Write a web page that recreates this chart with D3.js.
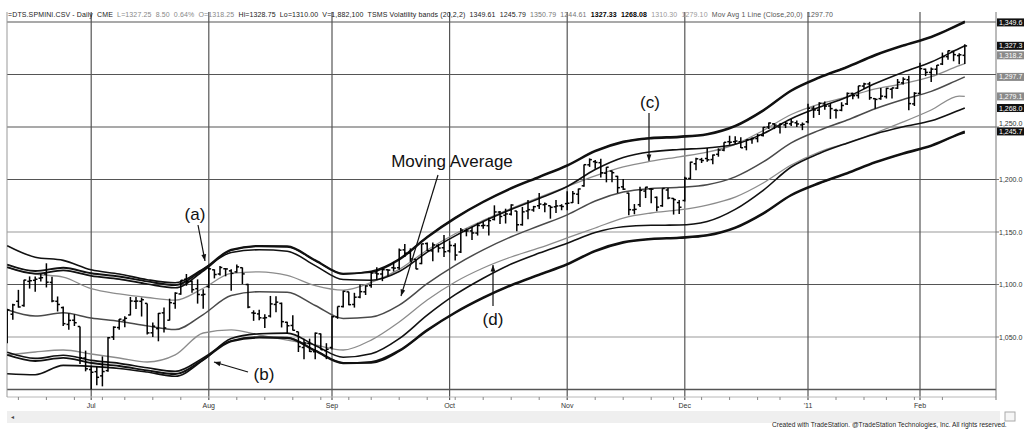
<!DOCTYPE html>
<html>
<head>
<meta charset="utf-8">
<script src="https://cdn.jsdelivr.net/npm/d3@7"></script>
<style>
  body { margin: 0; background: #fff; }
  svg { display: block; font-family: 'Liberation Sans', Arial, sans-serif; }
</style>
</head>
<body>
<script>
// trading calendar (exchange holidays removed)
const firstDay = '2010-06-10'
const lastDay = '2011-02-11'
const holidays = ['2010-07-05', '2010-09-06', '2010-11-25', '2010-12-24', '2011-01-17']

// daily OHLC, SPMINI
const opens = [1047.8,1071.7,1084,1080,1103,1104,1106,1110,1102,1084,
  1078,1062,1066,1060,1030,1019,1017,1013,1018,1050,
  1059,1066,1071,1084,1084,1082,1054,1058,1073,1066,
  1082,1091,1105,1103,1096,1090,1098,1114,1110,1115,
  1113,1112,1116,1100,1073,1072,1068,1070,1081,1082,
  1064,1061,1055,1040,1044,1036,1053,1037,1040,1069,
  1079,1093,1081,1088,1093,1099,1111,1110,1114,1116,
  1116,1133,1130,1124,1120,1139,1132,1137,1135,1132,
  1137,1131,1151,1151,1149,1156,1156,1162,1169,1166,
  1167,1170,1157,1170,1171,1175,1176,1175,1174,1175,
  1177,1178,1186,1194,1214,1217,1216,1206,1208,1203,
  1193,1187,1171,1176,1189,1191,1183,1175,1190,1182,
  1178,1180,1201,1215,1219,1220,1219,1224,1228,1236,
  1236,1236,1231,1238,1239,1242,1250,1253,1250,1252,
  1253,1254,1252,1255,1268,1266,1272,1270,1266,1266,
  1272,1282,1280,1289,1291,1277,1277,1279,1286,1287,
  1292,1295,1272,1282,1305,1302,1305,1310,1317,1322,
  1318,1318.25]
const highs = [1076.9,1081.6,1094.9,1104.6,1107.7,1107.7,1110,1120.2,1107.5,1088.6,
  1079,1072.6,1071.6,1060,1037,1022.6,1021.9,1031.5,1049.9,1060.2,
  1067.2,1069.8,1088.1,1088.2,1087.5,1082,1063.7,1072.9,1078.2,1086.5,
  1092.7,1104,1110,1103.7,1104.9,1095.4,1116.3,1114.4,1117.7,1115.6,
  1114.5,1118.95,1116.2,1100.6,1075.4,1075.9,1071.6,1089.1,1088.8,1082.8,
  1064.6,1070.6,1055,1048.4,1048.4,1054.4,1053.4,1044.1,1070.3,1079.1,
  1094.1,1093,1092.1,1099.9,1099.3,1112.5,1116.4,1115.3,1114.4,1121.5,
  1134.2,1138.6,1134.4,1124,1138.9,1139.9,1140,1138.6,1147.2,1141.3,
  1139.2,1153.8,1153.3,1154.9,1158.7,1159.7,1163.6,1175.4,1169.9,1172.2,
  1176.5,1170,1173.9,1180.4,1174.9,1187.1,1178.1,1175,1180.5,1176.5,
  1188.8,1189.1,1191.3,1214.3,1220.1,1218.6,1219.8,1211.8,1208.5,1203.5,
  1200.4,1187.5,1176.6,1193.1,1193,1191.9,1183.7,1191.7,1191.9,1182.4,
  1180.4,1202.6,1216.9,1220.6,1220.6,1230.1,1223.9,1229.7,1235.4,1241.7,
  1241.1,1240.3,1238.2,1240,1243.3,1250,1254.4,1253.6,1253.6,1254.9,
  1257.6,1256.1,1254.3,1272.2,1270.1,1273.6,1274.2,1272.8,1267.5,1273.6,
  1282.9,1282.6,1289.2,1292.1,1293,1277.5,1287.2,1287.3,1287.3,1295.7,
  1297.3,1298.7,1283.2,1311.2,1305.6,1306.6,1309,1320.9,1322.9,1322.6,
  1320.3,1328.75]
const lows = [1044,1066.4,1078,1078.9,1096.1,1093,1102.9,1097.2,1083.2,1074.3,
  1060.5,1056.9,1060.5,1024.2,1017.3,999.9,1004,1003,1017,1047.2,
  1057,1059.4,1070.6,1076.7,1069.5,1052.3,1050.1,1045.9,1054.3,1065.7,
  1076.9,1090.3,1098.8,1092.1,1081.8,1077,1096.7,1105.8,1108.5,1107.8,
  1094.1,1111.3,1100.5,1077.3,1065.4,1066,1058.5,1068.6,1073.6,1059.1,
  1052.9,1056.1,1035.7,1028.8,1035.7,1028.7,1037.8,1028.9,1038,1067.3,
  1078,1080.2,1078,1087,1090,1097,1104.6,1103.2,1107.9,1112.4,
  1114.1,1126.2,1121.6,1114.5,1119.3,1132,1122.1,1130.5,1126.1,1130.4,
  1122.9,1130,1145.9,1142.4,1146.6,1153,1146.7,1161,1157.7,1158.1,
  1165.6,1150.7,1156,1162.2,1169.3,1172,1168.7,1162.7,1168.1,1170.7,
  1170.7,1177.7,1176.6,1193,1212,1210.2,1201.9,1197.3,1197.5,1187.1,
  1190.1,1166,1166.9,1173.9,1182.3,1177.3,1169.7,1174,1181.3,1166.6,
  1167.1,1179,1200.1,1208.7,1215.7,1217,1214.5,1221.7,1227,1233,
  1233.8,1230,1227.8,1234,1235.4,1241,1248,1248,1243.7,1249,
  1251,1250,1247,1253.6,1258.7,1261.4,1266.4,1257.7,1258.2,1265,
  1271,1276.5,1277.1,1286.3,1275.9,1267.3,1276,1277.1,1277.1,1286.2,
  1290.4,1266,1270,1281,1298.5,1292.8,1299.7,1309,1314,1312.6,
  1309.7,1310]
const closes = [1075.8,1080.6,1078.6,1104.2,1103.6,1105,1106.5,1102.2,1084.3,1081,
  1062.7,1065.8,1063.6,1030.2,1019.7,1016.4,1011.6,1017.1,1049.3,1059.3,
  1067,1067.8,1084.3,1084.2,1085.5,1053.9,1060.3,1072.5,1058.6,1082.7,
  1091.7,1104,1102.8,1095.1,1090.5,1090.6,1114.9,1109.5,1116.2,1114.8,
  1110.6,1116.8,1110.1,1078.5,1072.6,1068.3,1068.4,1081.5,1083.2,1064.6,
  1060.7,1056.4,1040.9,1044.3,1036.2,1053.6,1037.9,1038.3,1069.3,1079.1,
  1093.5,1080.8,1087.9,1093.2,1098.6,1110.9,1110.1,1114.1,1113.7,1115.6,
  1132.7,1129.8,1124.3,1114.8,1138.7,1132.2,1137.7,1134.7,1131.2,1137.2,
  1128,1151.8,1151,1149.1,1156.2,1156.3,1160.8,1169.1,1164.8,1167.2,
  1175.7,1156.9,1169.2,1171.3,1174.1,1176.6,1176.6,1173.5,1174.8,1174.3,
  1177.4,1186.6,1191,1214.1,1218.9,1216.3,1206.4,1211.7,1206.5,1192.2,
  1190.8,1171.3,1171.6,1189.7,1192.7,1190.8,1173.7,1191.4,1182.4,1180.8,
  1173.6,1201.1,1216.5,1219.7,1218.1,1218.75,1223.3,1228,1235.4,1235.5,
  1236.6,1230.2,1237.9,1238.9,1242.1,1249.6,1253.8,1251.8,1252.5,1253.5,
  1254.8,1252.9,1252.6,1267.9,1266.2,1272.6,1269.9,1267.5,1265.75,1270.5,
  1281.96,1279.8,1289.2,1291,1277.9,1276.3,1279.4,1286.8,1287.2,1292.6,
  1295.5,1272.3,1282.1,1305.6,1302,1305.1,1308.9,1317,1322.6,1318.9,
  1318.75,1327.25]

// indicator lines, read every 5th bar
const bandIdx = [0,5,10,15,20,25,30,35,40,45,50,55,60,65,70,75,80,85,90,95,
  100,105,110,115,120,125,130,135,140,145,150,155,160,165,170,171]
const movAvg = [1076,1070,1073,1068,1065,1060.6,1057.1,1071.4,1089.5,1093.1,
  1092.7,1080,1067.7,1069,1080.4,1100.8,1118.3,1133,1145.5,1155.9,
  1166.3,1179.5,1188,1191.4,1192.6,1195,1202.5,1216.7,1234.9,1246.8,
  1256.6,1267.4,1276.2,1283.9,1295.4,1297.7]
const pctUp = [1119.0,1112.8,1115.9,1110.7,1107.6,1103.0,1099.4,1114.3,1133.1,1136.8,
  1136.4,1123.2,1110.4,1111.8,1123.6,1144.8,1163.0,1178.3,1191.3,1202.1,
  1213.0,1226.7,1235.5,1239.1,1240.3,1242.8,1250.6,1265.4,1284.3,1296.7,
  1306.9,1318.1,1327.2,1335.3,1347.2,1349.61]
const pctDn = [1033.0,1027.2,1030.1,1025.3,1022.4,1018.2,1014.8,1028.5,1045.9,1049.4,
  1049.0,1036.8,1025.0,1026.2,1037.2,1056.8,1073.6,1087.7,1099.7,1109.7,
  1119.6,1132.3,1140.5,1143.7,1144.9,1147.2,1154.4,1168.0,1185.5,1196.9,
  1206.3,1216.7,1225.2,1232.5,1243.6,1245.79]
const volUp = [1116.5,1110.3,1113.4,1108.2,1105.1,1100.5,1096.9,1112.8,1132.6,1136.3,
  1135.9,1122.7,1109.9,1112.6,1124.4,1145.6,1163.8,1179.1,1192.1,1202.9,
  1213.8,1227.5,1236.3,1239.9,1241.1,1243.6,1251.4,1266.2,1285.1,1297.5,
  1307.7,1318.9,1328.0,1336.1,1348.0,1350.79]
const volDn = [1035.5,1029.7,1032.6,1027.8,1024.9,1020.7,1017.3,1030.0,1046.4,1049.9,
  1049.5,1037.3,1025.5,1025.4,1036.4,1056.0,1072.8,1086.9,1098.9,1108.9,
  1118.8,1131.5,1139.7,1142.9,1144.1,1146.4,1153.6,1167.2,1184.7,1196.1,
  1205.5,1215.9,1224.4,1231.7,1242.8,1244.61]
const rngUp = [1137,1126,1123,1114,1110,1104.6,1101.6,1114.9,1130.5,1133.1,
  1131.7,1118,1104.7,1104,1112.4,1130.8,1146.3,1160,1171.5,1181.9,
  1193.3,1209.5,1221,1226.4,1228.6,1230,1233.5,1243.7,1257.9,1268.8,
  1278.6,1291.4,1302.2,1311.9,1324.8,1327.33]
const rngDn = [1015,1014,1023,1022,1020,1016.6,1012.6,1027.9,1048.5,1053.1,
  1053.7,1042,1030.7,1034,1048.4,1070.8,1090.3,1106,1119.5,1129.9,
  1139.3,1149.5,1155,1156.4,1156.6,1160,1171.5,1189.7,1211.9,1224.8,
  1234.6,1243.4,1250.2,1255.9,1266.0,1268.08]
const hiAvg = [1116,1110,1107,1096,1091,1087.6,1085.1,1096.4,1110.5,1112.1,
  1108.7,1099,1094.7,1102,1114.4,1132.8,1148.3,1161,1172.5,1182.9,
  1193.3,1203.5,1212,1217.4,1221.6,1226,1233.5,1246.7,1261.9,1271.8,
  1278.6,1286.4,1291.2,1297.9,1308.4,1310.3]
const loAvg = [1032.9,1035.7,1037.6,1033.8,1030,1026.2,1032.9,1053.8,1056.7,1051.9,
  1047.1,1042.4,1037.6,1047.1,1064.3,1085.2,1102.4,1115.7,1126.2,1134.8,
  1144.3,1153.8,1163.3,1168.1,1171,1175.7,1183.3,1196.7,1213.8,1226.2,
  1234.8,1244.3,1254.8,1266.2,1279.5,1279.1]

const priceTicks = [1050, 1100, 1150, 1200, 1250]
const gridValues = [1000, 1050, 1100, 1150, 1200, 1250, 1300, 1350]
const tagValues = [1349.61, 1327.33, 1318.25, 1297.70, 1279.10, 1268.08, 1245.79]
const tagDark = [true, true, false, false, false, true, true]

const width = 1024
const height = 429
const plot = { left: 7, right: 996, top: 12, bottom: 397 }

const parse = d3.utcParse('%Y-%m-%d')
const fmtDay = d3.utcFormat('%Y-%m-%d')
const dates = d3.utcDay.range(parse(firstDay), d3.utcDay.offset(parse(lastDay), 1))
  .filter((d) => d.getUTCDay() % 6 !== 0 && !holidays.includes(fmtDay(d)))
const n = Math.min(dates.length, closes.length)

const x = d3.scaleLinear().domain([0, 171]).range([7.2, 964.8])
const y = d3.scaleLinear().domain([1000, 1350]).range([389.5, 22])

const svg = d3.select('body').append('svg')
  .attr('width', width)
  .attr('height', height)

svg.append('defs').append('clipPath').attr('id', 'plot-clip')
  .append('rect')
  .attr('x', plot.left).attr('y', plot.top)
  .attr('width', plot.right - plot.left).attr('height', plot.bottom - plot.top)

// month and week positions
const monthIdx = []
const weekIdx = []
for (let i = 1; i < n; i++) {
  if (dates[i].getUTCMonth() !== dates[i - 1].getUTCMonth()) monthIdx.push(i)
  else if (dates[i].getUTCDay() < dates[i - 1].getUTCDay()) weekIdx.push(i)
}
const monthName = (i) => {
  const d = dates[i]
  return d.getUTCMonth() === 0 ? "'" + d3.utcFormat('%y')(d) : d3.utcFormat('%b')(d)
}

const grid = svg.append('g')
grid.selectAll('line.h')
  .data(gridValues)
  .enter()
  .append('line')
  .attr('x1', plot.left).attr('x2', plot.right)
  .attr('y1', (d) => y(d)).attr('y2', (d) => y(d))
  .attr('stroke', (d) => (d === 1050 || d === 1150 ? '#9a9a9a' : '#555'))
  .attr('stroke-width', (d) => (d === 1000 ? 1.6 : 1.2))

grid.selectAll('line.v')
  .data(monthIdx)
  .enter()
  .append('line')
  .attr('x1', (d) => x(d)).attr('x2', (d) => x(d))
  .attr('y1', plot.top).attr('y2', plot.bottom + 3)
  .attr('stroke', '#555')
  .attr('stroke-width', 1.2)

// frame
svg.append('line')
  .attr('x1', plot.left).attr('x2', plot.right)
  .attr('y1', plot.bottom).attr('y2', plot.bottom)
  .attr('stroke', '#b8b8b8')
svg.append('line')
  .attr('x1', plot.left).attr('x2', plot.left)
  .attr('y1', plot.top).attr('y2', plot.bottom)
  .attr('stroke', '#999')
svg.append('line')
  .attr('x1', plot.right).attr('x2', plot.right)
  .attr('y1', plot.top).attr('y2', plot.bottom + 3)
  .attr('stroke', '#777')

// time axis
const xAxis = svg.append('g').attr('font-size', 7).attr('fill', '#333')
xAxis.selectAll('line.w')
  .data(weekIdx)
  .enter()
  .append('line')
  .attr('x1', (d) => x(d)).attr('x2', (d) => x(d))
  .attr('y1', plot.bottom).attr('y2', plot.bottom + 3)
  .attr('stroke', '#888')
xAxis.selectAll('text')
  .data(monthIdx)
  .enter()
  .append('text')
  .attr('x', (d) => x(d))
  .attr('y', 408)
  .attr('text-anchor', 'middle')
  .text(monthName)

// price axis, TradeStation truncates to one decimal
const fmtPrice = (v) => d3.format(',.1f')(Math.floor(v * 10 + 1e-6) / 10)
const yAxis = svg.append('g').attr('font-size', 7).attr('fill', '#333')
yAxis.selectAll('line')
  .data(priceTicks)
  .enter()
  .append('line')
  .attr('x1', plot.right).attr('x2', plot.right + 3)
  .attr('y1', (d) => y(d)).attr('y2', (d) => y(d))
  .attr('stroke', '#777')
yAxis.selectAll('text')
  .data(priceTicks)
  .enter()
  .append('text')
  .attr('x', plot.right + 3)
  .attr('y', (d) => y(d) + (d === 1250 ? -1.5 : 2.5))
  .text((d) => fmtPrice(d))

const chart = svg.append('g').attr('clip-path', 'url(#plot-clip)')

// bands
const bandLine = (vals) => d3.line()
  .x((d, k) => x(bandIdx[k]))
  .y((d) => y(d))
  .curve(d3.curveMonotoneX)(vals)

const bands = [
  { vals: loAvg, color: '#8c8c8c', w: 1.3 },
  { vals: hiAvg, color: '#8c8c8c', w: 1.3 },
  { vals: movAvg, color: '#4a4a4a', w: 1.5 },
  { vals: rngUp, color: '#111', w: 1.6 },
  { vals: rngDn, color: '#111', w: 1.6 },
  { vals: volUp, color: '#111', w: 1.7 },
  { vals: volDn, color: '#111', w: 1.7 },
  { vals: pctUp, color: '#111', w: 1.9 },
  { vals: pctDn, color: '#111', w: 1.9 },
]
chart.selectAll('path.band')
  .data(bands)
  .enter()
  .append('path')
  .attr('class', 'band')
  .attr('d', (d) => bandLine(d.vals))
  .attr('fill', 'none')
  .attr('stroke', (d) => d.color)
  .attr('stroke-width', (d) => d.w)

// price bars
const idx = d3.range(n)
const bars = chart.append('g').attr('stroke', '#000').attr('stroke-width', 1.5)
bars.selectAll('line.hl')
  .data(idx)
  .enter()
  .append('line')
  .attr('x1', (i) => x(i)).attr('x2', (i) => x(i))
  .attr('y1', (i) => y(highs[i])).attr('y2', (i) => y(lows[i]))
bars.selectAll('line.o')
  .data(idx)
  .enter()
  .append('line')
  .attr('x1', (i) => x(i) - 2.3).attr('x2', (i) => x(i))
  .attr('y1', (i) => y(opens[i])).attr('y2', (i) => y(opens[i]))
bars.selectAll('line.c')
  .data(idx)
  .enter()
  .append('line')
  .attr('x1', (i) => x(i)).attr('x2', (i) => x(i) + 2.3)
  .attr('y1', (i) => y(closes[i])).attr('y2', (i) => y(closes[i]))

// annotations
const notes = svg.append('g').attr('font-size', 17).attr('fill', '#111')
const arrow = (x1, y1, x2, y2) => {
  const a = Math.atan2(y2 - y1, x2 - x1)
  const s = 7
  notes.append('line')
    .attr('x1', x1).attr('y1', y1).attr('x2', x2).attr('y2', y2)
    .attr('stroke', '#111').attr('stroke-width', 1.2)
  notes.append('path')
    .attr('d', `M${x2},${y2} L${x2 - s * Math.cos(a - 0.35)},${y2 - s * Math.sin(a - 0.35)} L${x2 - s * Math.cos(a + 0.35)},${y2 - s * Math.sin(a + 0.35)} Z`)
    .attr('fill', '#111')
}
notes.append('text').attr('x', 195).attr('y', 220).attr('text-anchor', 'middle').text('(a)')
arrow(198, 225, 205, 261)
notes.append('text').attr('x', 264).attr('y', 380).attr('text-anchor', 'middle').text('(b)')
arrow(248, 372, 214, 362)
notes.append('text').attr('x', 650).attr('y', 108).attr('text-anchor', 'middle').text('(c)')
arrow(649, 113, 649, 161)
notes.append('text').attr('x', 493).attr('y', 325).attr('text-anchor', 'middle').text('(d)')
arrow(493, 306, 493, 265)
notes.append('text').attr('x', 452).attr('y', 167).attr('text-anchor', 'middle').text('Moving Average')
arrow(438, 175, 401, 296)

// value tags on the price axis
const tags = svg.append('g').attr('font-size', 7)
tagValues.forEach((v, k) => {
  const ty = y(v)
  tags.append('rect')
    .attr('x', plot.right + 1).attr('y', ty - 4)
    .attr('width', 32).attr('height', 8)
    .attr('fill', tagDark[k] ? '#111' : '#8a8a8a')
  tags.append('text')
    .attr('x', plot.right + 3).attr('y', ty + 2.5)
    .attr('fill', '#fff')
    .text(fmtPrice(v))
})

// header
const header = svg.append('text')
  .attr('x', 8).attr('y', 17)
  .attr('font-size', 7)
  .attr('fill', '#222')
  .attr('textLength', 825)
  .attr('lengthAdjust', 'spacing')
  .style('white-space', 'pre')
const headerParts = [
  ['=DTS.SPMINI.CSV - Daily  CME  ', '#222'],
  ['L=1327.25  8.50  0.64%  O=1318.25  ', '#888'],
  ['Hi=1328.75  Lo=1310.00  V=1,882,100  TSMS Volatility bands (20,2,2)  1349.61  1245.79  ', '#222'],
  ['1350.79  1244.61  ', '#777'],
  ['1327.33  1268.08  ', '#000'],
  ['1310.30  1279.10  ', '#999'],
  ['Mov Avg 1 Line (Close,20,0)  1297.70', '#555'],
]
header.selectAll('tspan')
  .data(headerParts)
  .enter()
  .append('tspan')
  .attr('fill', (d) => d[1])
  .attr('font-weight', (d) => (d[1] === '#000' ? 'bold' : 'normal'))
  .text((d) => d[0])

// scroll bar and footer
svg.append('rect')
  .attr('x', plot.left).attr('y', 411)
  .attr('width', 993).attr('height', 12)
  .attr('fill', '#efefef')
svg.append('text')
  .attr('x', 11).attr('y', 419)
  .attr('font-size', 6).attr('fill', '#444')
  .text('◂')
svg.append('rect')
  .attr('x', 1005).attr('y', 412)
  .attr('width', 10).attr('height', 9)
  .attr('fill', '#f6f6f6').attr('stroke', '#aaa')
svg.append('text')
  .attr('x', 772).attr('y', 427)
  .attr('font-size', 6.6).attr('fill', '#222')
  .text('Created with TradeStation. @TradeStation Technologies, Inc. All rights reserved.')
</script>
</body>
</html>
